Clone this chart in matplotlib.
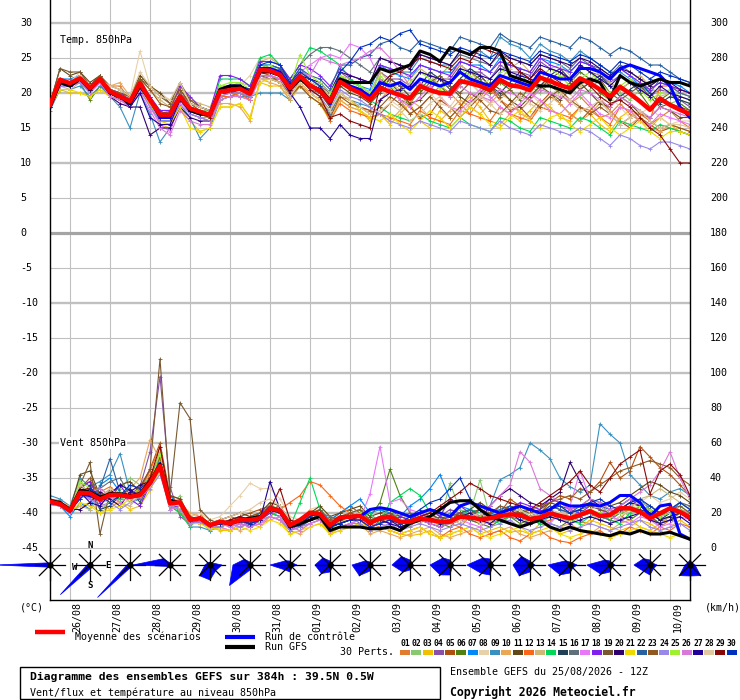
import matplotlib
matplotlib.use("Agg")
import matplotlib.pyplot as plt
import numpy as np
from matplotlib.patches import Polygon, Rectangle

# ---------------- DATA ----------------
DATES = ['26/08', '27/08', '28/08', '29/08', '30/08', '31/08', '01/09', '02/09',
         '03/09', '04/09', '05/09', '06/09', '07/09', '08/09', '09/09', '10/09']
MEMBER_LABELS = ['01', '02', '03', '04', '05', '06', '07', '08', '09', '10',
                 '11', '12', '13', '14', '15', '16', '17', '18', '19', '20',
                 '21', '22', '23', '24', '25', '26', '27', '28', '29', '30']
MEMBER_COLORS = ['#E07B30', '#88C870', '#F0C000', '#8850A8', '#B05010', '#508010',
                 '#0088F8', '#E8D0A8', '#3890C0', '#E8A858', '#604818', '#F86818',
                 '#D0B878', '#00D858', '#204058', '#607078', '#E878F8', '#8020F0',
                 '#785830', '#300070', '#F0D800', '#2860A0', '#905820', '#9888E8',
                 '#A0F030', '#D878D8', '#200098', '#E0C8A0', '#880808', '#0030C0']

# Temperature 850 hPa (deg C), 6-hourly from 25/08 12Z
TEMP_MEAN = [18.3,21.9,21.4,22.1,20.7,22.0,20.2,19.5,18.8,21.4,19.0,16.9,16.9,19.5,17.8,17.3,16.9,
             20.2,20.4,20.6,19.9,23.3,23.2,22.6,20.7,22.4,21.1,20.3,18.8,21.6,20.7,20.0,19.0,
             20.7,20.2,19.7,19.2,21.0,20.4,20.0,19.9,21.7,21.4,21.0,20.4,21.9,21.1,20.9,20.4,
             22.2,21.7,21.1,20.7,22.1,21.4,20.5,19.5,20.9,19.9,18.8,17.6,19.2,18.3,17.6,17.0]
TEMP_CTRL = [18,21.5,21,22,20.5,22,20,19.5,18.5,21,19,16.5,16.5,19.5,17.5,17,17,
             20.5,21,21,20,23.5,23.5,23,21,22.5,21,20.5,18.5,22,21,20.5,19.5,
             21.5,21,21.5,20.5,22,21.5,21,21.5,23,22,21.5,21,22.5,22,21.5,21,
             23,22.5,22,22,23.5,23.5,23,22,23.5,24,23.5,23,22.5,21,18,16.5]
TEMP_GFS = [18,21.5,21,22,20.5,22,20,19.5,18.5,21,19,17,17,19.5,17.5,17,17,
            20.5,21,21,20,23,23,22.5,20.5,22,21,20.5,19,22,21.5,21.5,21.5,
            23.5,23,23.5,24,26,25.5,24.5,26.5,26,25.5,26.5,26.5,26,22.5,22,21.5,
            21,21,20.5,20,21.5,22,21.5,19,22.5,21.5,21,21.5,22,21.5,21.5,21]

t01 = [18,21.5,21,21.5,20.5,21.5,21,21,19,21,19.5,17,17,19,17.5,17,16.5,
       19.5,20,19.5,19,22.5,22.5,21.5,20,21,20,19,17.5,19.5,19,18,17.5,
       19,20.5,19,17,18,19.5,21,20,18.5,17,19,20.5,19,18,17.5,19,21,22,20,18.5,19.5,18,16.5,17,18.5,17,16,15.5,16.5,17.5,16,15]
t02 = [18,21,21,22,20.5,22,20,19.5,19,22,19,17,17.5,20,18,17.5,17.5,
       21,21,21,20.5,24,24,23,21,23,21.5,21,19.5,22.5,21.5,21,20,
       21,22.5,23.5,22,20.5,21,22.5,24,23,21.5,20,21,23,24.5,23,21,20,21.5,22.5,21,19.5,20.5,22,21.5,20,19,20.5,21,19.5,18.5,19,18.5]
t03 = [18,20.5,20,20,19.5,20.5,19.5,19,18.5,20,18.5,15.5,15,18,16,14.5,15,
       18,18,18.5,16.5,21.5,21,21,19,21,19.5,18.5,16,19,18,17.5,16,
       17,15.5,17,18.5,16,15,17.5,16.5,18,19.5,18,16,15.5,17,16,17.5,19,18,16.5,16,18,17,15.5,14.5,16.5,17.5,16,15,16.5,15.5,14.5,14]
t04 = [18.5,22,21.5,22.5,21,22.5,20.5,20,19,22,19.5,17,17,20,18,17.5,17,
       20.5,21,21,20,23.5,23.5,23,21.5,23,22,21,20,23,22,21,20,
       23,22,22,21,23,22.5,22,22,24,23,23,22,24,23,23,22.5,24.5,23.5,23,22,24,23,22.5,21.5,22.5,21.5,20.5,19.5,20.5,20,19,18]
t05 = [18,21.5,21,22,20.5,21.5,20,19,18.5,21,18.5,16,16,19,17,16.5,16,
       19,19.5,20,19,23,22.5,22,19.5,21.5,20,19,17,20,19,18,17.5,
       17,18.5,20,18,16.5,17,19,18,16.5,18,19.5,21,19,17.5,18,16.5,18.5,20,18.5,17,16,17.5,19,17.5,16,15,16.5,15.5,14.5,15,14.5,14]
t06 = [18.5,21.5,21.5,21.5,19,21,20,19,18.5,21,19,17,17,19.5,18,17,16.5,
       20,20.5,20.5,20,23,23,22.5,20.5,22,21,20,18.5,21.5,20.5,20,19,
       22,21,19,18.5,20.5,22,21,19.5,21,23,22,20,21.5,20.5,19,21,22.5,21,20,21.5,23,22,20,19,20.5,21.5,20,18,19,20,18.5,17.5]
t07 = [18,22,22,22.5,21,22.5,20,19.5,19,21.5,18.5,16,16,19.5,17.5,17,17,
       20.5,21,21,20.5,24,24,23.5,21.5,23.5,22,21,19,22.5,21.5,21,20.5,
       24,23,22.5,22,24,23.5,23,23,24.5,24,24,23,25,24,23.5,23,25,24.5,24,23,24.5,24,23,22,23.5,22.5,21,20,22,21.5,21,20]
t08 = [18.5,22,21.5,23,21,22,20.5,19.5,19.5,26,21,20,19,21,19,18,17.5,
       20.5,21,21,22.5,25,25,24,21,23,21.5,20.5,19,22,21,20,19,
       21,19,18,19.5,21,20,18.5,18,20,21.5,20,18.5,19,20.5,21.5,20,18.5,19.5,21,20,18,17,18.5,19.5,18,16.5,17,18,16.5,15.5,16,16]
t09 = [17.5,20.5,20.5,21,19.5,21,19.5,18,15,20,17,13,15,18.5,16.5,13.5,15,
       19,19.5,19.5,19.5,20,20,20,19,22,20.5,19.5,17,20,19,18.5,18,
       24,23.5,23,23,25,24.5,24,24,26,25.5,26,25,28,27,26.5,25,27,26,25.5,24.5,26,25,24,23,23,22,21,20.5,21.5,21,20,19.5]
t10 = [18,21.5,21,22,21,21.5,21,21.5,19.5,21,19,17,16.5,19,17.5,17,16.5,
       18.5,18.5,18,16,22,21.5,21,19,21,19.5,18.5,16.5,19,18,17.5,16.5,
       17,16,17.5,19,18,16.5,16,17.5,19,18,17,18.5,20,19,17,16.5,18,19.5,18.5,17,16,17,18.5,17.5,16,15.5,16.5,15,14.5,15.5,15,14.5]
t11 = [18.5,23.5,22.5,23,21.5,22.5,20.5,20,19.5,22.5,21,20,18.5,20.5,18.5,18,17.5,
       20.5,20.5,20.5,20,22.5,22,22,20,22.5,21,20,18,21,20,19.5,18.5,
       20,21.5,20,18.5,19,20.5,22,21,19.5,18.5,20,21.5,20.5,19,18,19.5,21,20,19,20.5,21.5,20,18.5,18,19.5,18.5,17,16.5,18,17.5,16.5,16.5]
t12 = [18.5,21.5,21,22,20.5,21.5,20.5,20,19,21,19,16.5,16.5,19,17.5,17,16.5,
       19.5,19.5,20,19,22.5,22.5,22,19.5,21.5,20,19,16,18.5,17.5,17,16.5,
       17,16.5,16,15.5,17.5,16.5,16,15.5,17.5,17,16.5,16,18,17,16.5,16,18,17.5,17,16.5,18,17.5,16.5,15.5,18,17.5,17,16,21,21,20.5,20]
t13 = [18,21,20.5,21.5,20,21.5,20,19.5,19,22,20.5,19,18,21,19,18.5,18,
       21,21,21.5,21,24.5,25,24,21.5,23,22,21,19.5,22.5,22,21,20,
       23,21.5,20.5,22,23.5,22.5,21,22.5,24,23,21.5,20.5,22,23.5,24.5,23,22,23.5,24,22.5,21,22,23,21.5,20.5,21.5,22.5,21,19.5,20,19.5,19]
t14 = [18,21.5,21,22,20.5,22,20,19.5,19,21.5,19,17,16.5,19.5,17.5,17,16.5,
       22,22,22,21,25,25.5,24,22,24,26.5,26,25,24,22,21,19,
       18,17,16.5,16,17,16,15.5,15,16.5,15.5,15,14.5,16.5,16,15,14.5,16.5,16,15.5,15,16.5,16,15,14,16,15.5,15,14.5,15.5,15,14.5,14]
t15 = [18,21.5,21.5,22,20.5,22,20,19,18.5,21.5,19,17,17,19.5,18,17.5,17,
       20,20.5,20.5,20,23,23,22.5,20.5,22.5,21,20.5,19,22,21,20.5,19.5,
       20.5,22,21,19.5,21,23,22,20.5,22,23.5,22.5,21,20,21.5,23,22,21,22.5,23.5,22,20.5,21.5,22.5,21,19.5,20.5,21.5,20,18.5,19.5,19,18.5]
t16 = [18.5,21.5,21,22,20.5,22,20.5,20,19,21.5,19.5,17.5,17.5,20,18.5,18,17.5,
       20.5,21,21,20.5,23.5,24,23.5,22,24,25.5,26.5,26.5,26,25,24,23,
       25,24.5,24,23.5,25.5,25,24.5,24,25.5,25,24.5,24,25.5,25,24.5,24,25.5,25,24.5,23.5,25,24,23.5,22.5,24,23,22,21,22,21,20,19.5]
t17 = [18,21,21,21.5,20,21.5,19.5,19,18,20.5,18,15.5,14.5,18.5,17,16.5,16.5,
       19.5,20,20,19.5,22.5,22.5,22,20,23,24,25,25.5,25,27,26.5,25,
       22,20.5,19,18,19.5,21,19.5,18,17.5,19,20.5,19.5,18,17,18.5,20,19,17.5,17,18.5,20,18.5,17,16.5,18,17.5,16,15.5,17,16.5,16,15.5]
t18 = [18,21.5,21,22,20.5,22,20.5,20,19,21.5,19.5,17.5,17.5,21,19.5,18,17.5,
       22.5,22.5,22,21,24.5,24.5,24,22,24,23.5,22.5,21,23.5,22.5,22,21.5,
       24,23.5,23,22.5,24,23.5,23,22.5,24.5,24,23.5,23,24.5,24,23.5,23,25,24,23.5,23,24.5,24,23,22,23.5,22.5,21.5,20.5,21.5,21,20.5,20]
t19 = [18.5,23.5,23,23,21,22.5,21,20.5,19.5,22,21,19.5,18.5,21.5,19,18,17.5,
       20,20,20,19.5,22,22,21.5,20,22,20.5,20,18,21.5,20.5,20,19,
       20.5,22,21,19.5,20,21.5,22.5,21,20,21.5,22.5,21,19.5,20.5,22,21.5,20.5,22,23,21.5,20.5,21.5,22,20,19,20,21,19.5,18,18.5,18,17.5]
t20 = [18,21.5,21,22,20.5,21.5,19.5,18.5,18,18,14,15,15,18,16.5,16,16,
       20,20,20.5,20,23,23,22.5,20.5,22.5,22,21.5,20,23,22.5,22,21.5,
       25,24.5,24,23.5,25.5,25,24.5,24,26,25.5,25,24,26,25,24.5,24,25.5,25,24.5,24,25,24.5,23.5,22.5,23.5,23,22,21,22,21.5,20.5,20]
t21 = [18,20.5,20.5,20,19.5,20.5,19.5,19,18.5,20.5,18.5,16,15.5,18,15,14.5,15,
       18,18,18.5,16.5,21.5,22,21.5,19.5,21.5,20,19,17.5,20,19,17.5,16.5,
       16,17,15.5,14.5,16,17.5,16.5,15,16.5,18,17,15.5,15,16.5,17.5,16,15,16.5,17,15.5,14.5,15.5,16.5,15,14,15,16,14.5,13.5,14.5,14.5,14]
t22 = [18,21.5,21,22,20.5,22,20,19.5,18.5,21,19,16.5,16.5,19.5,17.5,17,17,
       20.5,20.5,20.5,19.5,23.5,24,23.5,21.5,23.5,22.5,22,20.5,24,24,25,25.5,
       27,27.5,26.5,26,27.5,27,26.5,26,28,27.5,27,26.5,28.5,27.5,27,26.5,28,27.5,27,26.5,28,27.5,26.5,25.5,26.5,26,25,24,24,23,22,21.5]
t23 = [18.5,22,21.5,22.5,21,22.5,20.5,20,19.5,22,20.5,18.5,18,20.5,18.5,17.5,17,
       20,20.5,20.5,20,22.5,22,21.5,19.5,21,19.5,18.5,16.5,19.5,18.5,18,17,
       18,19.5,18.5,17,18,19.5,18,16.5,18,20,19,17.5,17,18.5,20,19,18,19.5,20.5,19,18,17,18,17,15.5,16.5,17.5,16,15,15.5,15,14.5]
t24 = [18,21,21,21.5,20,21.5,19.5,19,18.5,20.5,18,16,16,19,17,16.5,16,
       19.5,20,20,19.5,22.5,22.5,22,20,22,20.5,19.5,17.5,20.5,19.5,19,18,
       17,16,15.5,15,16,15.5,15,14.5,16,15.5,15,14.5,16,15,14.5,14,15.5,15,14.5,14,15,14.5,13.5,12.5,14,13.5,12.5,12,13,13,12.5,12]
t25 = [18,21.5,21,22,20.5,22,20,19.5,18.5,21,19,17,17,19.5,17.5,17,16.5,
       21,21.5,21.5,20.5,23.5,24,23,21,25.5,22.5,21.5,20,22.5,21.5,21,20,
       22.5,21,20,21.5,23,22,20.5,21.5,23.5,22.5,21,22,23.5,22.5,21,20.5,22,23.5,22.5,21,22,23,21.5,20,21,22,20.5,19,20,20.5,19.5,19]
t26 = [18,21.5,21,22,20,21.5,19.5,19,18,20,17.5,15,14,17.5,16,15.5,15.5,
       19,19.5,19.5,19,22,22.5,22,20.5,23,22.5,25,24.5,24,24.5,25,26,
       26.5,25,23,21,21.5,20.5,20,19.5,21,20,19.5,19,20.5,20,19.5,19,20.5,20,19.5,19,20.5,20,19,18,19.5,18.5,17.5,16.5,18,17.5,17,16.5]
t27 = [18,21.5,21,22,20.5,22,20,19.5,18,20,16.5,15.5,15.5,19,17.5,17,17,
       20,20.5,20.5,20,23,23,22.5,20,18,15,15,13.5,15.5,14,13.5,13.5,
       19,20,20.5,21,23,22.5,22,21.5,23.5,23,22.5,22,23.5,23,22.5,22,24,23.5,23,22,24,23,22,21,22.5,21.5,20.5,19.5,21,20,19.5,19]
t28 = [18.5,22,21.5,22.5,21,22,21,20.5,19.5,23,21,19.5,19,21.5,18.5,18,17.5,
       20,20.5,20.5,20,22,22,21.5,19.5,21.5,20,19,17.5,20,19,18,17,
       17.5,18.5,17.5,16,17,18.5,19.5,18,17,18.5,19.5,18.5,17,18,19.5,18.5,17.5,18.5,20,19,17.5,18,19,17,15.5,16.5,17.5,16,15,15.5,15.5,15]
t29 = [18,21.5,21,22,20.5,22,20,19.5,18.5,21,19,16.5,16.5,19.5,17.5,17,16.5,
       20.5,21,21,20.5,23.5,23.5,23,20.5,22,20.5,19.5,16.5,17,16,15.5,15,
       21,22.5,23,24,25,24.5,24,23.5,25,24.5,26.5,26,25.5,24.5,23,22,23.5,22.5,21.5,20.5,22,21,19.5,18.5,19,18,16.5,15,14,12,10,10]
t30 = [18,21.5,21,22,20.5,22,20,19.5,18.5,21,19,16.5,16.5,19.5,17.5,17,17,
       20.5,21,21,20.5,24,24.5,24,21.5,23,22,21,19,23,24.5,26.5,27,
       28,27.5,28.5,29,27,26.5,26,25.5,26.5,26,25.5,25,26,25.5,25,24.5,26,25.5,25,24.5,25.5,25,24,23,24.5,24,23,22,23,22.5,22,21.5]

# Wind 850 hPa (km/h)
WIND_MEAN = [26.5,25.1,21.3,31.6,31.2,27.8,30.3,30.3,29.3,30.3,37.0,46.9,25.5,26.1,16.0,17.0,13.1,
             15.0,14.1,16.0,16.0,17.0,22.7,21.3,13.1,16.0,20.2,19.4,13.1,17.5,17.9,18.3,14.3,
             17.0,17.9,15.0,15.0,17.0,16.0,15.0,15.0,17.9,17.5,16.5,17.0,18.3,19.2,18.9,16.5,
             17.5,19.8,18.3,17.0,18.9,21.1,18.3,18.9,22.7,22.7,20.6,17.0,19.8,22.7,20.6,17.5]
WIND_CTRL = [26,25,21,31,30,28,30,30,29,30,37,47,26,26,16,17,13,
             15,14,16,16,17,22,21,13,16,20,19,13,17,18,18,22,
             23,22,20,18,20,22,20,18,24,26,24,22,20,22,24,22,20,22,26,24,24,25,24,26,30,30,26,18,24,25,8,5]
WIND_GFS = [27,26,22,33,32,29,31,31,30,31,38,48,27,26,16,17,13,
            15,14,16,17,18,22,21,12,14,16,18,10,12,12,12,11,
            11,12,10,14,16,18,22,26,27,27,22,18,16,14,12,14,16,12,10,12,10,9,8,7,9,8,10,8,8,9,7,5]

w01 = [27,26,20,30,36,32,35,30,29,32,42,50,30,28,18,20,12,
       12,14,18,15,20,22,24,12,14,22,18,12,15,18,20,12,
       14,18,12,14,16,18,12,14,12,18,15,14,16,18,20,16,14,16,18,20,15,14,20,18,16,24,22,18,12,16,20,18]
w02 = [25,24,22,38,30,22,26,34,40,36,40,55,22,30,14,15,10,
       16,12,14,18,14,26,20,10,14,18,22,10,15,16,20,14,
       18,22,16,12,18,20,15,37,22,20,39,18,16,20,18,14,18,20,16,14,18,20,16,18,22,18,24,20,16,18,24,20]
w03 = [27,25,20,24,26,20,24,26,22,24,33,45,28,22,15,14,12,
       10,10,12,14,12,18,16,8,10,14,16,8,12,14,16,10,
       12,10,8,7,8,10,6,8,10,12,8,10,12,9,10,8,14,12,8,10,12,16,14,12,10,12,16,14,10,12,16,12]
w04 = [26,24,22,32,30,28,30,32,30,35,55,98,35,18,14,16,12,
       14,16,18,12,16,20,18,14,12,16,18,14,16,18,14,10,
       16,14,18,20,16,14,18,22,20,16,14,18,20,24,18,16,14,20,18,16,20,22,18,16,20,24,20,18,14,18,22,20]
w05 = [28,27,22,35,38,30,32,28,30,35,45,60,30,25,18,16,14,
       16,14,18,20,22,24,22,14,16,20,22,16,20,24,20,16,
       18,20,16,14,18,20,16,14,16,20,22,18,20,28,24,22,20,26,30,28,34,32,38,49,40,44,58,52,46,42,36,30]
w06 = [27,25,22,33,32,28,30,30,28,30,38,50,28,20,15,16,12,
       14,15,16,14,16,24,22,12,14,18,20,14,16,20,22,18,
       26,45,30,20,18,16,14,12,18,16,14,12,16,18,14,16,18,14,12,16,18,20,16,14,18,16,20,18,14,16,20,16]
w07 = [25,24,18,26,22,36,40,32,26,28,40,50,30,24,16,17,14,
       16,14,18,16,20,24,22,16,14,18,22,16,20,24,28,20,
       22,20,18,24,28,34,42,28,24,22,20,18,24,22,20,18,20,22,18,16,22,26,24,20,22,24,28,22,18,20,26,22]
w08 = [26,25,22,32,33,28,28,28,29,30,36,46,24,22,18,20,16,
       18,24,30,37,34,34,28,18,16,22,24,16,18,20,22,16,
       18,16,14,18,20,16,12,14,16,18,14,16,18,20,16,14,16,18,20,16,18,20,16,14,18,22,26,30,26,28,32,28]
w09 = [30,28,24,40,35,38,42,54,32,30,36,44,22,24,12,12,10,
       12,14,16,12,16,20,18,10,12,16,20,12,14,16,18,14,
       16,18,14,16,20,18,16,20,18,22,20,24,39,42,46,60,56,51,40,35,32,36,71,65,60,42,36,30,28,32,34,30]
w10 = [25,26,24,30,32,26,22,28,34,40,62,50,28,26,20,18,14,
       14,12,10,12,14,18,16,10,8,12,14,8,10,12,14,8,
       10,8,6,8,10,12,8,6,8,10,12,8,10,12,8,6,8,10,12,14,10,8,12,10,14,16,12,10,14,18,22,20]
w11 = [28,26,22,42,44,30,28,36,38,32,40,52,30,28,18,16,14,
       16,18,20,18,20,26,24,14,16,20,24,18,20,22,24,18,
       20,22,18,16,20,22,18,16,20,22,26,22,20,24,22,20,22,26,24,22,24,28,26,24,26,30,34,38,36,32,30,26]
w12 = [27,25,20,30,29,27,30,30,30,33,44,58,24,20,14,14,12,
       12,10,12,14,16,18,22,26,30,38,36,30,24,20,18,14,
       12,10,8,10,12,8,6,10,12,8,6,8,10,6,4,8,10,6,4,3,6,8,10,6,8,12,10,8,12,10,14,12]
w13 = [26,25,21,24,22,28,34,26,24,30,35,45,26,24,16,18,14,
       16,14,12,16,18,22,20,14,12,16,18,12,14,16,18,14,
       16,18,20,16,14,18,20,16,14,18,22,18,16,20,24,20,18,22,24,20,18,22,26,22,20,24,28,30,34,30,26,24]
w14 = [26,24,22,30,34,26,30,28,28,32,36,48,24,20,12,18,14,
       12,14,16,14,16,20,18,12,26,40,22,12,14,16,18,20,
       14,26,30,34,30,20,16,14,18,22,20,16,14,18,22,18,14,18,20,16,14,18,20,16,14,20,24,20,16,18,22,18]
w15 = [26,25,22,28,36,22,24,30,34,26,37,46,25,25,15,16,13,
       14,15,16,15,17,22,20,13,14,18,20,14,16,18,18,14,
       16,18,14,14,16,16,14,14,16,18,16,16,18,20,18,16,16,20,18,16,18,22,18,18,20,22,22,20,16,20,22,18]
w16 = [27,26,22,36,30,34,38,40,30,28,38,48,27,26,16,17,13,
       15,14,16,16,16,23,21,13,12,16,20,18,16,18,18,14,
       18,16,14,16,18,16,14,16,18,16,18,16,20,18,16,18,18,20,16,16,18,20,18,16,22,24,26,24,20,22,26,24]
w17 = [26,24,20,30,28,26,28,30,28,30,36,44,22,24,16,14,12,
       12,10,14,12,14,16,18,10,12,14,16,10,12,14,16,31,
       58,26,28,22,20,16,14,18,16,14,12,16,18,14,12,16,18,14,20,24,44,28,22,18,16,14,18,16,12,14,18,16]
w18 = [25,24,20,34,38,26,30,36,28,24,36,46,24,24,15,15,12,
       14,16,14,12,16,20,22,10,14,18,16,12,16,18,20,14,
       16,14,18,16,20,22,18,28,24,20,18,16,20,22,26,24,22,28,26,22,20,24,22,20,24,28,24,22,18,20,22,18]
w19 = [27,26,22,36,49,8,32,30,30,34,45,108,30,83,74,22,16,
       14,16,18,16,18,24,22,12,14,18,22,14,16,20,22,16,
       18,20,16,14,18,20,16,14,18,20,22,18,20,22,20,18,20,24,22,20,22,24,22,20,22,26,24,22,18,22,24,20]
w20 = [26,25,22,22,26,32,28,24,32,36,38,48,26,26,16,17,13,
       14,13,15,14,16,22,20,12,13,16,18,12,14,16,16,12,
       14,16,12,14,16,14,12,14,16,18,16,24,30,34,30,26,24,28,32,49,38,28,24,20,22,26,24,20,16,18,20,16]
w21 = [25,24,20,26,24,20,22,24,28,30,35,44,24,22,14,14,11,
       11,10,12,10,12,16,14,8,10,12,14,8,10,12,14,10,
       12,10,8,10,12,8,6,8,10,12,8,6,8,10,12,8,10,12,8,6,8,10,8,6,8,10,12,10,8,6,8,6]
w22 = [28,26,22,32,30,34,51,32,30,30,38,48,26,26,16,17,13,
       14,16,14,16,18,22,20,14,12,16,18,12,16,18,18,14,
       16,18,14,16,18,20,16,18,20,22,18,20,22,24,20,18,20,24,22,20,24,26,24,22,24,28,26,24,20,22,26,22]
w23 = [27,26,23,34,40,30,33,30,30,32,40,52,28,24,16,18,14,
       16,18,16,18,20,22,24,16,14,18,20,16,18,20,18,14,
       16,18,14,16,18,20,16,18,20,18,22,20,24,22,20,22,24,26,28,30,28,32,36,40,44,46,48,50,48,46,40,36]
w24 = [25,24,20,32,28,24,26,22,26,29,34,42,24,22,14,15,12,
       12,14,12,14,16,18,16,10,12,14,16,10,12,14,14,10,
       12,14,10,12,14,12,10,12,14,12,10,12,14,16,12,10,12,14,12,10,12,14,12,10,12,14,16,12,10,12,14,10]
w25 = [26,25,21,38,34,28,26,32,30,34,37,54,26,26,16,17,13,
       15,14,16,15,18,22,20,14,15,18,20,14,16,18,20,14,
       16,18,14,16,18,16,14,16,18,20,18,16,18,20,18,16,18,20,18,16,20,22,20,18,20,22,24,22,18,20,22,18]
w26 = [26,24,22,28,32,34,30,26,29,30,36,46,25,25,15,16,13,
       14,12,14,12,14,18,16,12,10,14,16,10,12,14,16,12,
       14,12,10,14,16,14,12,14,16,18,20,24,30,36,55,49,34,30,26,22,24,28,26,22,24,28,32,36,44,55,40,28]
w27 = [26,25,22,32,26,24,31,36,33,30,38,48,26,26,16,17,13,
       14,14,16,14,16,38,22,12,14,18,20,12,14,16,18,14,
       16,14,12,14,16,18,14,16,18,20,16,14,18,20,16,14,16,18,16,14,16,18,16,14,16,18,20,16,14,16,18,14]
w28 = [26,25,22,36,32,28,34,30,26,30,36,46,25,24,16,17,14,
       16,18,20,22,26,28,24,16,14,18,20,14,16,18,18,14,
       16,18,16,14,16,18,16,14,16,18,20,16,18,20,22,18,20,22,20,18,20,22,24,20,22,24,26,24,20,22,26,22]
w29 = [27,26,22,33,34,28,31,30,30,31,40,58,28,26,16,17,13,
       14,16,18,16,18,22,34,16,14,18,20,14,16,18,18,14,
       16,18,14,16,18,20,24,28,32,37,34,30,28,26,24,22,26,30,34,38,44,36,32,40,48,52,56,31,44,48,42,30]
w30 = [26,25,21,28,34,30,26,30,36,34,38,48,26,26,16,17,13,
       14,14,16,14,16,22,20,12,14,18,20,12,14,16,16,12,
       14,16,14,18,22,26,28,34,40,28,22,18,20,22,18,16,18,22,24,20,22,26,28,24,22,26,28,24,20,22,26,22]

# Daily wind-flux roses (one per day at 12Z), flux per sector E, NE, N, NW, W, SW, S, SE
ROSE_FLUX = [
    [2, 1, 2, 3, 55, 3, 2, 1],
    [2, 3, 3, 2, 3, 42, 4, 2],
    [2, 3, 3, 2, 3, 46, 3, 2],
    [1, 1, 2, 9, 37, 2, 1, 1],
    [12, 3, 3, 3, 5, 15, 15, 8],
    [3, 2, 3, 8, 17, 29, 5, 3],
    [7, 3, 4, 6, 20, 7, 7, 3],
    [4, 3, 4, 10, 15, 12, 7, 3],
    [3, 2, 3, 6, 18, 15, 6, 2],
    [3, 3, 5, 12, 18, 10, 5, 3],
    [4, 3, 5, 10, 20, 14, 10, 3],
    [4, 3, 6, 10, 23, 12, 10, 3],
    [5, 3, 4, 12, 17, 15, 7, 3],
    [7, 3, 3, 6, 22, 14, 8, 4],
    [5, 3, 4, 7, 23, 13, 7, 3],
    [7, 3, 5, 9, 16, 9, 10, 5],
    [5, 3, 5, 3, 5, 15, 11, 15],
]

TEMP_PERTS = [t01, t02, t03, t04, t05, t06, t07, t08, t09, t10, t11, t12, t13, t14, t15,
              t16, t17, t18, t19, t20, t21, t22, t23, t24, t25, t26, t27, t28, t29, t30]
WIND_PERTS = [w01, w02, w03, w04, w05, w06, w07, w08, w09, w10, w11, w12, w13, w14, w15,
              w16, w17, w18, w19, w20, w21, w22, w23, w24, w25, w26, w27, w28, w29, w30]

_bad = [i + 1 for i, s in enumerate(TEMP_PERTS) if len(s) != 65]
_badw = [i + 1 for i, s in enumerate(WIND_PERTS) if len(s) != 65]
_other = [len(TEMP_MEAN), len(TEMP_CTRL), len(TEMP_GFS), len(WIND_MEAN), len(WIND_CTRL), len(WIND_GFS)]
assert not _bad and not _badw and all(n == 65 for n in _other), (_bad, _badw, _other)

# ---------------- LAYOUT ----------------
FONT = ['DejaVu Sans Mono', 'DejaVu Sans']
plt.rcParams['font.family'] = FONT
FS = 7.2

FIG_W, FIG_H = 740, 700
L, R, T, B = 50, 690, 0, 600
N_DAYS = 16
SX = (R - L) / N_DAYS          # px per day
SY = 7.0                        # px per degree
Y_TOP = 30 + 23 / SY
Y_BOT = Y_TOP - (B - T) / SY

fig = plt.figure(figsize=(FIG_W / 100, FIG_H / 100), dpi=100)
fig.patch.set_facecolor('white')

ov = fig.add_axes([0, 0, 1, 1])
ov.set_xlim(0, FIG_W)
ov.set_ylim(FIG_H, 0)
ov.axis('off')
ov.set_zorder(0)

ax = fig.add_axes([L / FIG_W, 1 - B / FIG_H, (R - L) / FIG_W, (B - T) / FIG_H])
ax.set_zorder(1)
ax.set_xlim(0, N_DAYS)
ax.set_ylim(Y_BOT, Y_TOP)
ax.set_xticks([])
ax.set_yticks([])
ax.spines['top'].set_visible(False)
for s in ['left', 'right', 'bottom']:
    ax.spines[s].set_color('black')
    ax.spines[s].set_linewidth(1.0)

GRID = '#C0C0C0'
for k in range(N_DAYS):
    ax.axvline(k + 0.5, color=GRID, lw=0.8, zorder=0)
for v in range(-45, 31, 5):
    if v == 0:
        ax.axhline(0, color='#A4A4A4', lw=2.3, zorder=0.5)
    else:
        ax.axhline(v, color=GRID, lw=1.7 if v % 10 == 0 else 0.8, zorder=0)


def wy(w):
    return -45 + np.asarray(w, dtype=float) / 4.0


def xs(s):
    return np.arange(len(s)) * 0.25


# members
for s, c in zip(TEMP_PERTS, MEMBER_COLORS):
    ax.plot(xs(s), s, color=c, lw=0.8, marker='+', ms=3, mew=0.6, zorder=2)
for s, c in zip(WIND_PERTS, MEMBER_COLORS):
    ax.plot(xs(s), wy(s), color=c, lw=0.8, marker='+', ms=3, mew=0.6, zorder=2)

# control, gfs, mean
ax.plot(xs(TEMP_CTRL), TEMP_CTRL, color='#0000FF', lw=2.2, zorder=3)
ax.plot(xs(TEMP_GFS), TEMP_GFS, color='black', lw=2.2, zorder=3)
ax.plot(xs(TEMP_MEAN), TEMP_MEAN, color='#FF0000', lw=3.2, zorder=4)
ax.plot(xs(WIND_CTRL), wy(WIND_CTRL), color='#0000FF', lw=2.2, zorder=3)
ax.plot(xs(WIND_GFS), wy(WIND_GFS), color='black', lw=2.2, zorder=3)
ax.plot(xs(WIND_MEAN), wy(WIND_MEAN), color='#FF0000', lw=3.2, zorder=4)

# wind roses
ang = np.deg2rad([0, 45, 90, 135, 180, 225, 270, 315])
yc = Y_TOP - 565 / SY
SPOKE = 15
for k, flux in enumerate(ROSE_FLUX):
    r = np.asarray(flux, dtype=float)
    px = k + r * np.cos(ang) / SX
    py = yc + r * np.sin(ang) / SY
    ax.add_patch(Polygon(np.column_stack([px, py]), closed=True, fc='#0000FF',
                         ec='#0000FF', lw=0.5, clip_on=False, zorder=5))
    for a in ang:
        ax.plot([k, k + SPOKE * np.cos(a) / SX], [yc, yc + SPOKE * np.sin(a) / SY],
                color='black', lw=0.9, clip_on=False, zorder=6)
    ax.plot([k], [yc], 'o', color='black', ms=3.5, clip_on=False, zorder=7)

# compass letters on the second rose
for lab, dx, dy in [('N', 0.5, -19), ('S', 0.5, 21), ('W', -15, 2), ('E', 18, 0)]:
    ax.text(1 + dx / SX, yc - dy / SY, lab, fontsize=6.5, fontweight='bold',
            ha='center', va='center', clip_on=False, zorder=8)

# panel titles
ax.text(10 / SX, Y_TOP - 40 / SY, 'Temp. 850hPa', fontsize=FS, ha='left', va='center', zorder=8)
ax.text(10 / SX, Y_TOP - 443 / SY, 'Vent 850hPa', fontsize=FS, ha='left', va='center', zorder=8,
        bbox=dict(facecolor='white', edgecolor='none', pad=0.5))

# axis labels
for v in range(-45, 31, 5):
    ax.text(-30 / SX, v, f"{v}", ha='left', va='center', fontsize=FS, clip_on=False)
    ax.text(N_DAYS + 20 / SX, v, f"{(v + 45) * 4}", ha='left', va='center', fontsize=FS, clip_on=False)

for k, lab in enumerate(DATES):
    ax.text(k + 0.5 + 7.5 / SX, Y_BOT - 2 / SY, lab, rotation=90, ha='center', va='top',
            fontsize=FS, clip_on=False)

ov.text(20, 607, '(°C)', fontsize=FS, ha='left', va='center')
ov.text(705, 607, '(km/h)', fontsize=FS, ha='left', va='center')

# legend
ov.plot([35, 65], [631.5, 631.5], color='#FF0000', lw=3.2, solid_capstyle='butt')
ov.text(75, 637, 'Moyenne des scénarios', fontsize=FS, ha='left', va='center')
ov.plot([225, 255], [637, 637], color='#0000FF', lw=3.0, solid_capstyle='butt')
ov.text(265, 637, 'Run de contrôle', fontsize=FS, ha='left', va='center')
ov.plot([225, 255], [647, 647], color='black', lw=3.0, solid_capstyle='butt')
ov.text(265, 647, 'Run GFS', fontsize=FS, ha='left', va='center')
ov.text(340, 652, '30 Perts.', fontsize=FS, ha='left', va='center')

SW_X0, SW_STEP = 400, 338 / 30
for k, (lab, c) in enumerate(zip(MEMBER_LABELS, MEMBER_COLORS)):
    x0 = SW_X0 + k * SW_STEP
    ov.add_patch(Rectangle((x0, 650), 10, 5.3, facecolor=c, edgecolor='none'))
    ov.text(x0 + 5, 643.5, lab, fontsize=5.8, fontweight='bold', ha='center', va='center')

# bottom box
ov.add_patch(Rectangle((20, 667), 420, 31.5, facecolor='none', edgecolor='black', lw=1.0))
ov.text(30, 677, 'Diagramme des ensembles GEFS sur 384h : 39.5N 0.5W', fontsize=8.2,
        fontweight='bold', ha='left', va='center')
ov.text(30, 692.5, 'Vent/flux et température au niveau 850hPa', fontsize=FS, ha='left', va='center')
ov.text(450, 672, 'Ensemble GEFS du 25/08/2026 - 12Z', fontsize=FS, ha='left', va='center')
ov.text(450, 692, 'Copyright 2026 Meteociel.fr', fontsize=8.3, fontweight='bold', ha='left', va='center')

fig.savefig('out.png', dpi=100, facecolor='white')
